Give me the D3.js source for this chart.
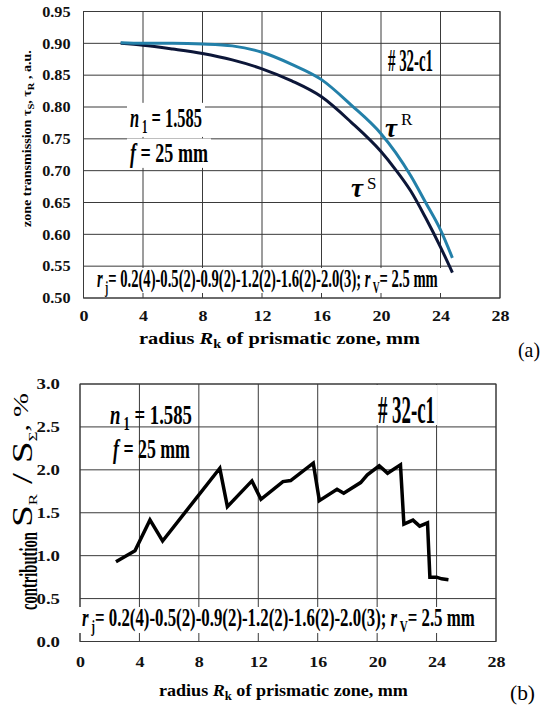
<!DOCTYPE html>
<html><head><meta charset="utf-8">
<script src="https://cdn.jsdelivr.net/npm/d3@7"></script>
<style>
html,body{margin:0;padding:0;background:#fff;}
svg{display:block;}
text{font-family:"Liberation Serif","Times New Roman",serif;}
</style></head>
<body>
<svg id="c" width="542" height="707"></svg>
<script>
// ---------- data ----------
const tauX = [2.5, 4, 6, 8, 10, 12, 14, 16, 18, 20, 21, 22, 23, 24, 24.8];
const tauR = [0.901, 0.900, 0.900, 0.899, 0.896, 0.886, 0.867, 0.843, 0.803, 0.758, 0.728, 0.692, 0.650, 0.607, 0.563];
const tauS = [0.900, 0.897, 0.891, 0.884, 0.874, 0.860, 0.841, 0.816, 0.776, 0.730, 0.701, 0.668, 0.626, 0.580, 0.540];

const contribX = [2.42, 3.7, 4.71, 5.56, 9.41, 9.92, 11.57, 12.18, 13.66, 14.18, 15.70, 16.11, 17.30, 17.75, 18.89, 19.34, 20.14, 20.70, 21.57, 21.80, 22.41, 22.86, 23.39, 23.55, 24.0, 24.34, 24.8];
const contribY = [0.93, 1.058, 1.416, 1.171, 2.018, 1.571, 1.871, 1.656, 1.863, 1.875, 2.078, 1.641, 1.773, 1.727, 1.852, 1.941, 2.047, 1.961, 2.059, 1.367, 1.414, 1.344, 1.383, 0.75, 0.75, 0.73, 0.719];

const xTicks = [0, 4, 8, 12, 16, 20, 24, 28];
const yTicksA = [0.50, 0.55, 0.60, 0.65, 0.70, 0.75, 0.80, 0.85, 0.90, 0.95];
const yTicksB = [0.0, 0.5, 1.0, 1.5, 2.0, 2.5, 3.0];

const svg = d3.select("#c");

// ---------- helpers ----------
function label(parent, x, y, parts, o = {}) {
  const g = parent.append("g").attr("transform", `translate(${x},${y})`);
  const t = g.append("text").attr("x", 0).attr("y", 0)
    .attr("text-anchor", o.anchor || "start")
    .attr("font-size", o.size || 14)
    .attr("font-weight", o.weight || "bold")
    .attr("fill", o.fill || "#000");
  let off = 0;
  parts.forEach(p => {
    if (typeof p === "string") p = { t: p };
    const fs = p.size || o.size || 14;
    let target = p.raise ? -p.raise : 0;
    if (p.sub) target = fs * 0.35;
    if (p.sup) target = -fs * 0.45;
    const ts = t.append("tspan").text(p.t).attr("dy", target - off);
    off = target;
    if (p.size) ts.attr("font-size", p.size);
    if (p.italic) ts.attr("font-style", "italic");
    if (p.weight) ts.attr("font-weight", p.weight);
  });
  let sx = 1;
  if (o.width) {
    const w = t.node().getComputedTextLength();
    sx = o.width / w;
    t.attr("transform", `scale(${sx},1)`);
  }
  if (o.bg) {
    const bb = t.node().getBBox();
    const pad = o.pad == null ? 2 : o.pad;
    const top = o.bgUp != null ? -o.bgUp : bb.y;
    const bot = o.bgDown != null ? o.bgDown : bb.y + bb.height;
    g.insert("rect", "text")
      .attr("x", bb.x * sx - pad).attr("width", bb.width * sx + 2 * pad)
      .attr("y", top).attr("height", bot - top)
      .attr("fill", "#fff");
  }
  if (o.rot) g.attr("transform", `translate(${x},${y}) rotate(${o.rot})`);
  return g;
}

function panel(cfg) {
  const { x, y, yTicks, fmt } = cfg;
  const g = svg.append("g");
  g.append("g").selectAll("line").data(xTicks).join("line")
    .attr("x1", d => x(d)).attr("x2", d => x(d))
    .attr("y1", y.range()[0]).attr("y2", y.range()[1])
    .attr("stroke", "#3a3a3a").attr("stroke-width", 1);
  g.append("g").selectAll("line").data(yTicks).join("line")
    .attr("x1", x.range()[0]).attr("x2", x.range()[1])
    .attr("y1", d => y(d)).attr("y2", d => y(d))
    .attr("stroke", "#3a3a3a").attr("stroke-width", 1);
  g.append("rect")
    .attr("x", x.range()[0]).attr("y", y.range()[1])
    .attr("width", x.range()[1] - x.range()[0]).attr("height", y.range()[0] - y.range()[1])
    .attr("fill", "none").attr("stroke", "#3a3a3a").attr("stroke-width", 1);

  const ax = g.append("g").attr("transform", `translate(0,${y.range()[0]})`)
    .call(d3.axisBottom(x).tickValues(xTicks).tickSize(0).tickPadding(cfg.xPad).tickFormat(d3.format("d")));
  const ay = g.append("g").attr("transform", `translate(${x.range()[0]},0)`)
    .call(d3.axisLeft(y).tickValues(yTicks).tickSize(0).tickPadding(cfg.yPad).tickFormat(d3.format(fmt)));
  [ax, ay].forEach(a => {
    a.select(".domain").remove();
    a.selectAll("text")
      .attr("font-family", null)
      .attr("font-size", 15).attr("font-weight", "bold").attr("fill", "#111");
  });
  ax.selectAll("text").attr("transform", "scale(1.2,1)")
    .attr("x", 0).attr("dy", "0.71em");
  ay.selectAll("text").attr("transform", `scale(${cfg.ySx},1)`)
    .attr("x", -cfg.yPad / cfg.ySx);
  return g;
}

// ---------- panel (a) ----------
const xA = d3.scaleLinear().domain([0, 28]).range([83.5, 500]);
const yA = d3.scaleLinear().domain([0.5, 0.95]).range([298, 11.5]);
const gA = panel({ x: xA, y: yA, yTicks: yTicksA, fmt: ".2f", xPad: 12, yPad: 13, ySx: 1.08 });

label(gA, 130, 127, [{ t: "n", italic: true }, { t: " 1", sub: true, size: 18 }, " = 1.585"], { size: 27, width: 72, bg: true, pad: 3 });
label(gA, 130, 162, [{ t: "f", italic: true }, " = 25 mm"], { size: 27, width: 78, bg: true, pad: 3 });
label(gA, 388, 71, ["# 32-c1"], { size: 31, width: 45 });
label(gA, 97, 287, [{ t: "r", italic: true }, { t: " j", sub: true, size: 17 }, "= 0.2(4)-0.5(2)-0.9(2)-1.2(2)-1.6(2)-2.0(3);  ", { t: "r", italic: true }, { t: " V", sub: true, size: 17 }, "= 2.5 mm"],
  { size: 26, width: 341, bg: true, pad: 3, bgUp: 19, bgDown: 6 });

const lineA = d3.line().curve(d3.curveMonotoneX);
gA.append("path").attr("d", lineA(tauX.map((d, i) => [xA(d), yA(tauS[i])])))
  .attr("fill", "none").attr("stroke", "#0c1638").attr("stroke-width", 3);
gA.append("path").attr("d", lineA(tauX.map((d, i) => [xA(d), yA(tauR[i])])))
  .attr("fill", "none").attr("stroke", "#2380a9").attr("stroke-width", 3);

label(gA, 385, 137, [{ t: "τ", italic: true }], { size: 27 });
label(gA, 401, 125, ["R"], { size: 17, weight: "normal" });
label(gA, 351, 197, [{ t: "τ", italic: true }], { size: 27 });
label(gA, 367, 189, ["S"], { size: 17, weight: "normal" });

label(svg, 31, 227, ["zone transmission τ", { t: "S", sub: true, size: 9 }, { t: ", τ", size: 12 }, { t: "R", sub: true, size: 9 }, { t: " , a.u.", size: 12 }],
  { size: 12, rot: -90, width: 177 });
label(svg, 139, 344, ["radius  ", { t: "R", italic: true }, { t: "k", sub: true, size: 12 }, { t: "  of  prismatic  zone, mm", size: 17 }],
  { size: 17, width: 281 });
label(svg, 518, 357, ["(a)"], { size: 21, weight: "normal", width: 22 });

// ---------- panel (b) ----------
const xB = d3.scaleLinear().domain([0, 28]).range([80, 496]);
const yB = d3.scaleLinear().domain([0, 3]).range([641.5, 384]);
const gB = panel({ x: xB, y: yB, yTicks: yTicksB, fmt: ".1f", xPad: 15, yPad: 20, ySx: 1.25 });

label(gB, 110, 424, [{ t: "n", italic: true }, { t: " 1", sub: true, size: 18 }, " = 1.585"], { size: 27, width: 82 });
label(gB, 113, 458, [{ t: "f", italic: true }, " = 25 mm"], { size: 27, width: 77 });
label(gB, 378, 423, ["# 32-c1"], { size: 40, width: 57, bg: true, pad: 2, bgUp: 38, bgDown: 2 });
label(gB, 82, 626, [{ t: "r", italic: true }, { t: " j", sub: true, size: 17 }, "= 0.2(4)-0.5(2)-0.9(2)-1.2(2)-1.6(2)-2.0(3);  ", { t: "r", italic: true }, { t: " V", sub: true, size: 17 }, "= 2.5 mm"],
  { size: 26, width: 393, bg: true, pad: 3, bgUp: 19, bgDown: 7 });

gB.append("path").attr("d", d3.line()(contribX.map((d, i) => [xB(d), yB(contribY[i])])))
  .attr("fill", "none").attr("stroke", "#000").attr("stroke-width", 3.5).attr("stroke-linejoin", "miter");

label(svg, 37, 610, ["contribution"], { size: 25, rot: -90, width: 78 });
label(svg, 37, 527, [{ t: "S", size: 30, raise: 5 }, { t: "R", size: 13, raise: 0 }, { t: " / S", size: 30, raise: 5 }, { t: "Σ", size: 13, raise: 0 }, { t: ",  %", size: 22, raise: 9 }],
  { size: 30, weight: "normal", rot: -90, width: 134 });
label(svg, 159, 696, ["radius  ", { t: "R", italic: true }, { t: "k", sub: true, size: 12 }, { t: " of prismatic zone, mm", size: 17 }],
  { size: 17, width: 249 });
label(svg, 510, 700, ["(b)"], { size: 21, weight: "normal", width: 25 });
</script>
</body></html>
